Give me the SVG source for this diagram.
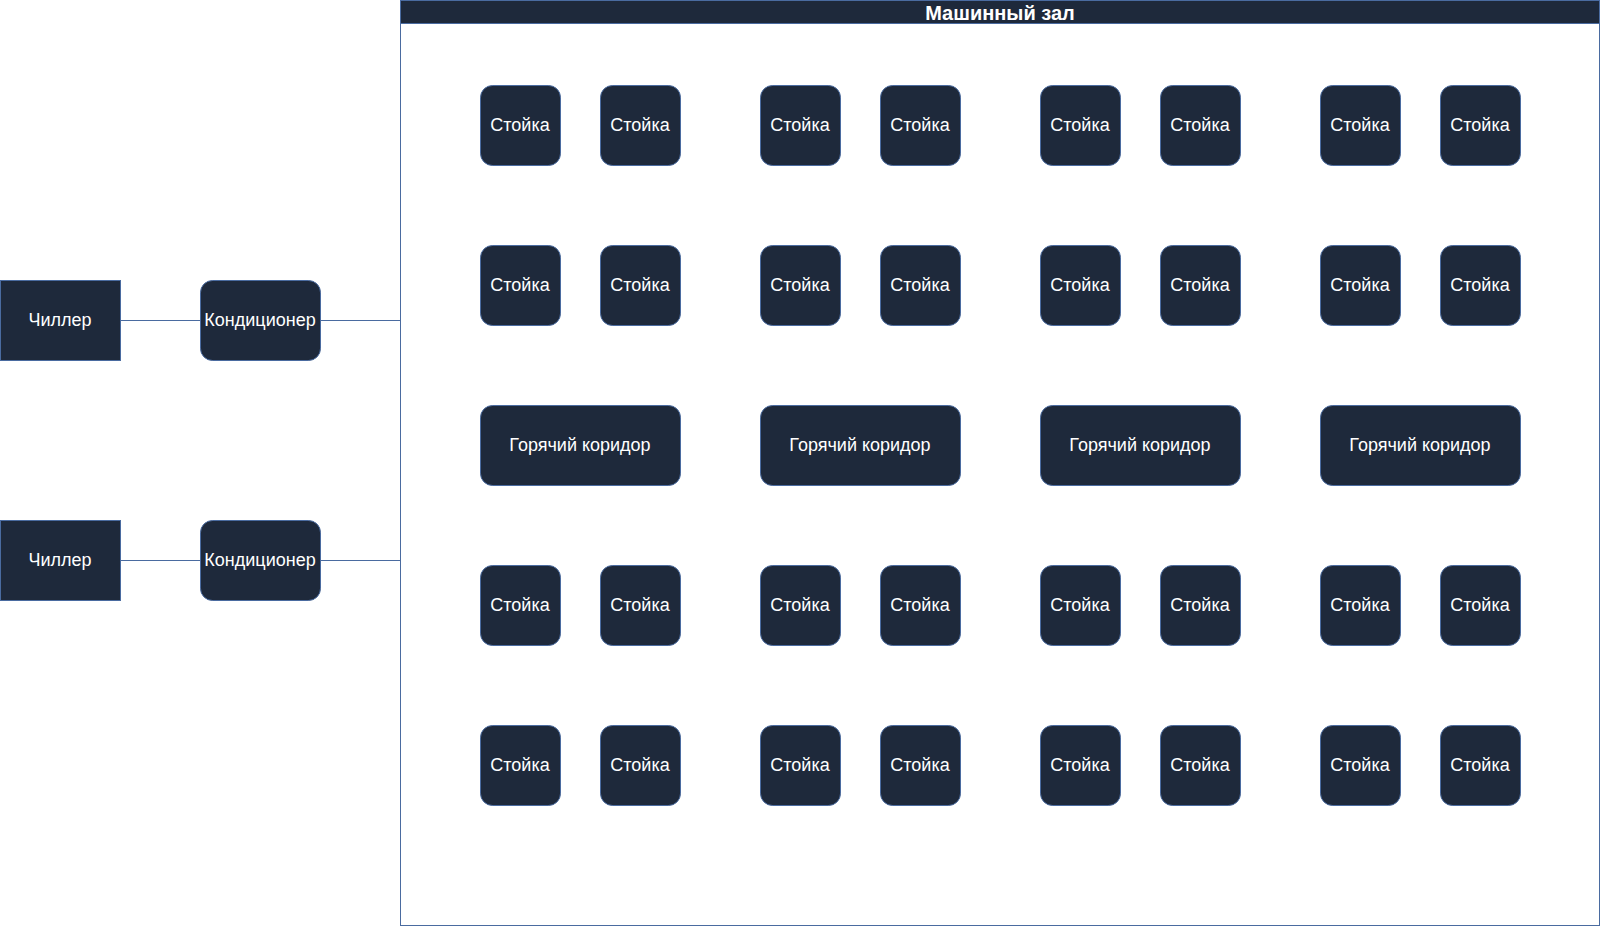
<svg xmlns="http://www.w3.org/2000/svg" width="1601" height="927" viewBox="0 0 1601 927">
<style>
.n{fill:#1e293b;stroke:#4a6ba0;stroke-width:1}
.t{fill:#ffffff;font-family:"Liberation Sans",Arial,sans-serif;font-size:18px;text-anchor:middle;dominant-baseline:central}
.c{stroke:#4a6ba0;stroke-width:1;fill:none}
</style>
<rect width="1601" height="927" fill="#ffffff"/>
<g id="hall">
<rect x="400.5" y="0.5" width="1199" height="925" fill="#ffffff" stroke="#4a6ba0"/>
<rect x="400.5" y="0.5" width="1199" height="23" class="n"/>
<text x="1000" y="13" class="t" style="font-weight:bold;font-size:20px">Машинный зал</text>
</g>
<g id="connectors">
<line class="c" x1="120" y1="320.5" x2="200" y2="320.5"/>
<line class="c" x1="320" y1="320.5" x2="400" y2="320.5"/>
<line class="c" x1="120" y1="560.5" x2="200" y2="560.5"/>
<line class="c" x1="320" y1="560.5" x2="400" y2="560.5"/>
</g>
<g id="chiller1"><rect class="n" x="0.5" y="280.5" width="120" height="80"/><text class="t" x="60" y="320">Чиллер</text></g>
<g id="chiller2"><rect class="n" x="0.5" y="520.5" width="120" height="80"/><text class="t" x="60" y="560">Чиллер</text></g>
<g id="ac1"><rect class="n" x="200.5" y="280.5" width="120" height="80" rx="12"/><text class="t" x="260" y="320">Кондиционер</text></g>
<g id="ac2"><rect class="n" x="200.5" y="520.5" width="120" height="80" rx="12"/><text class="t" x="260" y="560">Кондиционер</text></g>
<g id="r1c1"><rect class="n" x="480.5" y="85.5" width="80" height="80" rx="12"/><text class="t" x="520" y="125">Стойка</text></g>
<g id="r1c2"><rect class="n" x="600.5" y="85.5" width="80" height="80" rx="12"/><text class="t" x="640" y="125">Стойка</text></g>
<g id="r1c3"><rect class="n" x="760.5" y="85.5" width="80" height="80" rx="12"/><text class="t" x="800" y="125">Стойка</text></g>
<g id="r1c4"><rect class="n" x="880.5" y="85.5" width="80" height="80" rx="12"/><text class="t" x="920" y="125">Стойка</text></g>
<g id="r1c5"><rect class="n" x="1040.5" y="85.5" width="80" height="80" rx="12"/><text class="t" x="1080" y="125">Стойка</text></g>
<g id="r1c6"><rect class="n" x="1160.5" y="85.5" width="80" height="80" rx="12"/><text class="t" x="1200" y="125">Стойка</text></g>
<g id="r1c7"><rect class="n" x="1320.5" y="85.5" width="80" height="80" rx="12"/><text class="t" x="1360" y="125">Стойка</text></g>
<g id="r1c8"><rect class="n" x="1440.5" y="85.5" width="80" height="80" rx="12"/><text class="t" x="1480" y="125">Стойка</text></g>
<g id="r2c1"><rect class="n" x="480.5" y="245.5" width="80" height="80" rx="12"/><text class="t" x="520" y="285">Стойка</text></g>
<g id="r2c2"><rect class="n" x="600.5" y="245.5" width="80" height="80" rx="12"/><text class="t" x="640" y="285">Стойка</text></g>
<g id="r2c3"><rect class="n" x="760.5" y="245.5" width="80" height="80" rx="12"/><text class="t" x="800" y="285">Стойка</text></g>
<g id="r2c4"><rect class="n" x="880.5" y="245.5" width="80" height="80" rx="12"/><text class="t" x="920" y="285">Стойка</text></g>
<g id="r2c5"><rect class="n" x="1040.5" y="245.5" width="80" height="80" rx="12"/><text class="t" x="1080" y="285">Стойка</text></g>
<g id="r2c6"><rect class="n" x="1160.5" y="245.5" width="80" height="80" rx="12"/><text class="t" x="1200" y="285">Стойка</text></g>
<g id="r2c7"><rect class="n" x="1320.5" y="245.5" width="80" height="80" rx="12"/><text class="t" x="1360" y="285">Стойка</text></g>
<g id="r2c8"><rect class="n" x="1440.5" y="245.5" width="80" height="80" rx="12"/><text class="t" x="1480" y="285">Стойка</text></g>
<g id="hot1"><rect class="n" x="480.5" y="405.5" width="200" height="80" rx="12"/><text class="t" x="580" y="445">Горячий коридор</text></g>
<g id="hot2"><rect class="n" x="760.5" y="405.5" width="200" height="80" rx="12"/><text class="t" x="860" y="445">Горячий коридор</text></g>
<g id="hot3"><rect class="n" x="1040.5" y="405.5" width="200" height="80" rx="12"/><text class="t" x="1140" y="445">Горячий коридор</text></g>
<g id="hot4"><rect class="n" x="1320.5" y="405.5" width="200" height="80" rx="12"/><text class="t" x="1420" y="445">Горячий коридор</text></g>
<g id="r4c1"><rect class="n" x="480.5" y="565.5" width="80" height="80" rx="12"/><text class="t" x="520" y="605">Стойка</text></g>
<g id="r4c2"><rect class="n" x="600.5" y="565.5" width="80" height="80" rx="12"/><text class="t" x="640" y="605">Стойка</text></g>
<g id="r4c3"><rect class="n" x="760.5" y="565.5" width="80" height="80" rx="12"/><text class="t" x="800" y="605">Стойка</text></g>
<g id="r4c4"><rect class="n" x="880.5" y="565.5" width="80" height="80" rx="12"/><text class="t" x="920" y="605">Стойка</text></g>
<g id="r4c5"><rect class="n" x="1040.5" y="565.5" width="80" height="80" rx="12"/><text class="t" x="1080" y="605">Стойка</text></g>
<g id="r4c6"><rect class="n" x="1160.5" y="565.5" width="80" height="80" rx="12"/><text class="t" x="1200" y="605">Стойка</text></g>
<g id="r4c7"><rect class="n" x="1320.5" y="565.5" width="80" height="80" rx="12"/><text class="t" x="1360" y="605">Стойка</text></g>
<g id="r4c8"><rect class="n" x="1440.5" y="565.5" width="80" height="80" rx="12"/><text class="t" x="1480" y="605">Стойка</text></g>
<g id="r5c1"><rect class="n" x="480.5" y="725.5" width="80" height="80" rx="12"/><text class="t" x="520" y="765">Стойка</text></g>
<g id="r5c2"><rect class="n" x="600.5" y="725.5" width="80" height="80" rx="12"/><text class="t" x="640" y="765">Стойка</text></g>
<g id="r5c3"><rect class="n" x="760.5" y="725.5" width="80" height="80" rx="12"/><text class="t" x="800" y="765">Стойка</text></g>
<g id="r5c4"><rect class="n" x="880.5" y="725.5" width="80" height="80" rx="12"/><text class="t" x="920" y="765">Стойка</text></g>
<g id="r5c5"><rect class="n" x="1040.5" y="725.5" width="80" height="80" rx="12"/><text class="t" x="1080" y="765">Стойка</text></g>
<g id="r5c6"><rect class="n" x="1160.5" y="725.5" width="80" height="80" rx="12"/><text class="t" x="1200" y="765">Стойка</text></g>
<g id="r5c7"><rect class="n" x="1320.5" y="725.5" width="80" height="80" rx="12"/><text class="t" x="1360" y="765">Стойка</text></g>
<g id="r5c8"><rect class="n" x="1440.5" y="725.5" width="80" height="80" rx="12"/><text class="t" x="1480" y="765">Стойка</text></g>
</svg>
